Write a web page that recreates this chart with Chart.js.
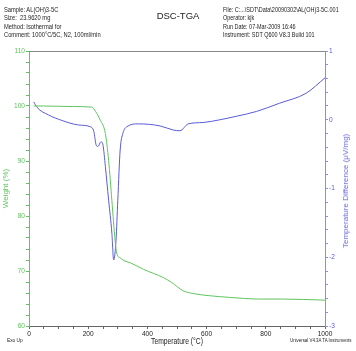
<!DOCTYPE html>
<html><head><meta charset="utf-8">
<script src="https://cdn.jsdelivr.net/npm/chart.js@4.4.1/dist/chart.umd.min.js"></script>
<style>
html,body{margin:0;padding:0;background:#fff;}
#wrap{position:relative;width:356px;height:351px;overflow:hidden;font-family:"Liberation Sans",Arial,sans-serif;color:#222;}
canvas{position:absolute;left:0;top:0;}
.t{position:absolute;white-space:nowrap;line-height:1;}
.hdr{font-size:7.2px;line-height:8.4px;transform:scaleX(0.8);transform-origin:0 0;}
</style></head><body>
<div id="wrap">
<canvas id="c" width="356" height="351"></canvas>
<div class="t hdr" style="left:4px;top:6px">Sample: AL(OH)3-5C<br>Size:&nbsp; 23.9620 mg<br>Method: Isothermal for<br>Comment: 1000°C/5C, N2, 100ml/min</div>
<div class="t" style="left:178px;top:11px;transform:translateX(-50%);font-size:9.5px;">DSC-TGA</div>
<div class="t hdr" style="left:223px;top:6px;transform:scaleX(0.76);">File: C:...\SDT\Data\20090302\AL(OH)3-5C.001<br>Operator: kjk<br>Run Date: 07-Mar-2009 16:46<br>Instrument: SDT Q600 V8.3 Build 101</div>
<div class="t" style="left:7px;top:337px;font-size:6px;transform:scaleX(0.8);transform-origin:0 0;">Exo Up</div>
<div class="t" style="left:290px;top:337px;font-size:6px;transform:scaleX(0.73);transform-origin:0 0;">Universal V4.3A TA Instruments</div>
<div class="t" style="left:177px;top:337px;font-size:9px;transform:translateX(-50%) scaleX(0.75);">Temperature (°C)</div>
<div class="t" style="left:346px;top:191px;transform:translate(-50%,-50%) rotate(-90deg);font-size:8px;color:#6a6ae0;">Temperature Difference (μV/mg)</div>
</div>
<script>
// TGA (weight %) vs temperature (°C)
const tgaTemp   = [16, 50, 100, 150, 212, 225, 241, 258, 269, 280, 291, 297, 308, 320, 342, 387, 454, 482, 521, 555, 611, 678, 779, 857, 1000];
const tgaWeight = [100, 100, 99.95, 99.9, 99.8, 99.0, 97.4, 95.0, 90.1, 82.8, 75.5, 73.1, 72.4, 71.9, 71.5, 70.3, 68.8, 67.9, 66.4, 65.9, 65.5, 65.2, 64.9, 64.9, 64.7];
// DSC (temperature difference µV/mg) vs temperature (°C)
const dscTemp = [16, 27, 66, 111, 167, 206, 219, 227, 233, 243, 250, 258, 269, 280, 286, 294, 300, 308, 317, 331, 370, 443, 488, 510, 538, 588, 645, 700, 768, 846, 936, 1000];
const dscDiff = [0.26, 0.18, 0.07, -0.01, -0.076, -0.1, -0.17, -0.37, -0.39, -0.32, -0.37, -0.68, -1.17, -1.65, -2.04, -1.75, -1.17, -0.44, -0.2, -0.1, -0.06, -0.09, -0.15, -0.16, -0.06, -0.04, 0.0, 0.05, 0.12, 0.24, 0.385, 0.61];
// tick labels
const xLabels = [0, 200, 400, 600, 800, 1000];
const weightLabels = [60, 70, 80, 90, 100, 110];
const diffLabels = [-3, -2, -1, 0, 1];

const GREEN = '#5fc45f', BLUE = '#5a5ad8', BLUE_AX = '#8c8cf0';
const FAM = '"Liberation Sans",Arial,sans-serif';
const near = (v, arr) => arr.find(a => Math.abs(a - v) < 1e-6);

const topBorder = {
  id: 'topBorder',
  afterDraw(chart) {
    const {ctx, chartArea: a} = chart;
    ctx.save(); ctx.strokeStyle = '#888'; ctx.lineWidth = 1;
    ctx.beginPath(); ctx.moveTo(a.left, a.top + 0.5); ctx.lineTo(a.right, a.top + 0.5); ctx.stroke();
    ctx.restore();
  }
};

new Chart(document.getElementById('c'), {
  type: 'line',
  data: {
    datasets: [
      { data: tgaTemp.map((t, i) => ({x: t, y: tgaWeight[i]})), yAxisID: 'y', borderColor: GREEN, borderWidth: 1, pointRadius: 0, cubicInterpolationMode: 'monotone' },
      { data: dscTemp.map((t, i) => ({x: t, y: dscDiff[i]})), yAxisID: 'y2', borderColor: BLUE, borderWidth: 1, pointRadius: 0, cubicInterpolationMode: 'monotone' }
    ]
  },
  options: {
    responsive: false, animation: false,
    layout: { padding: { top: 51, left: 0, right: 0, bottom: 0 } },
    plugins: { legend: { display: false }, tooltip: { enabled: false } },
    scales: {
      x: {
        type: 'linear', min: 0, max: 1000,
        afterFit(s) { s.height = 25; },
        grid: { drawOnChartArea: false, tickLength: 3, color: '#666' },
        border: { color: '#666' },
        ticks: { stepSize: 50, autoSkip: false, maxRotation: 0, padding: 1, color: '#222', font: { size: 6.6, family: FAM },
          callback: v => { const m = near(v, xLabels); return m === undefined ? '' : String(m); } }
      },
      y: {
        type: 'linear', position: 'left', min: 60, max: 110,
        afterFit(s) { s.width = 29; },
        grid: { drawOnChartArea: false, tickLength: 3, color: GREEN },
        border: { color: GREEN },
        ticks: { stepSize: 2, autoSkip: false, padding: 1, color: GREEN, font: { size: 6.6, family: FAM },
          callback: v => { const m = near(v, weightLabels); return m === undefined ? '' : String(m); } },
        title: { display: true, text: 'Weight (%)', color: GREEN, font: { size: 8, family: FAM }, padding: 1.2 }
      },
      y2: {
        type: 'linear', position: 'right', min: -3, max: 1,
        afterFit(s) { s.width = 31; },
        grid: { drawOnChartArea: false, tickLength: 3, color: BLUE_AX },
        border: { color: BLUE_AX },
        ticks: { stepSize: 0.2, autoSkip: false, padding: 1, color: BLUE, font: { size: 6.6, family: FAM },
          callback: v => { const m = near(v, diffLabels); return m === undefined ? '' : String(m); } }
      }
    }
  },
  plugins: [topBorder]
});
</script>
</body></html>
